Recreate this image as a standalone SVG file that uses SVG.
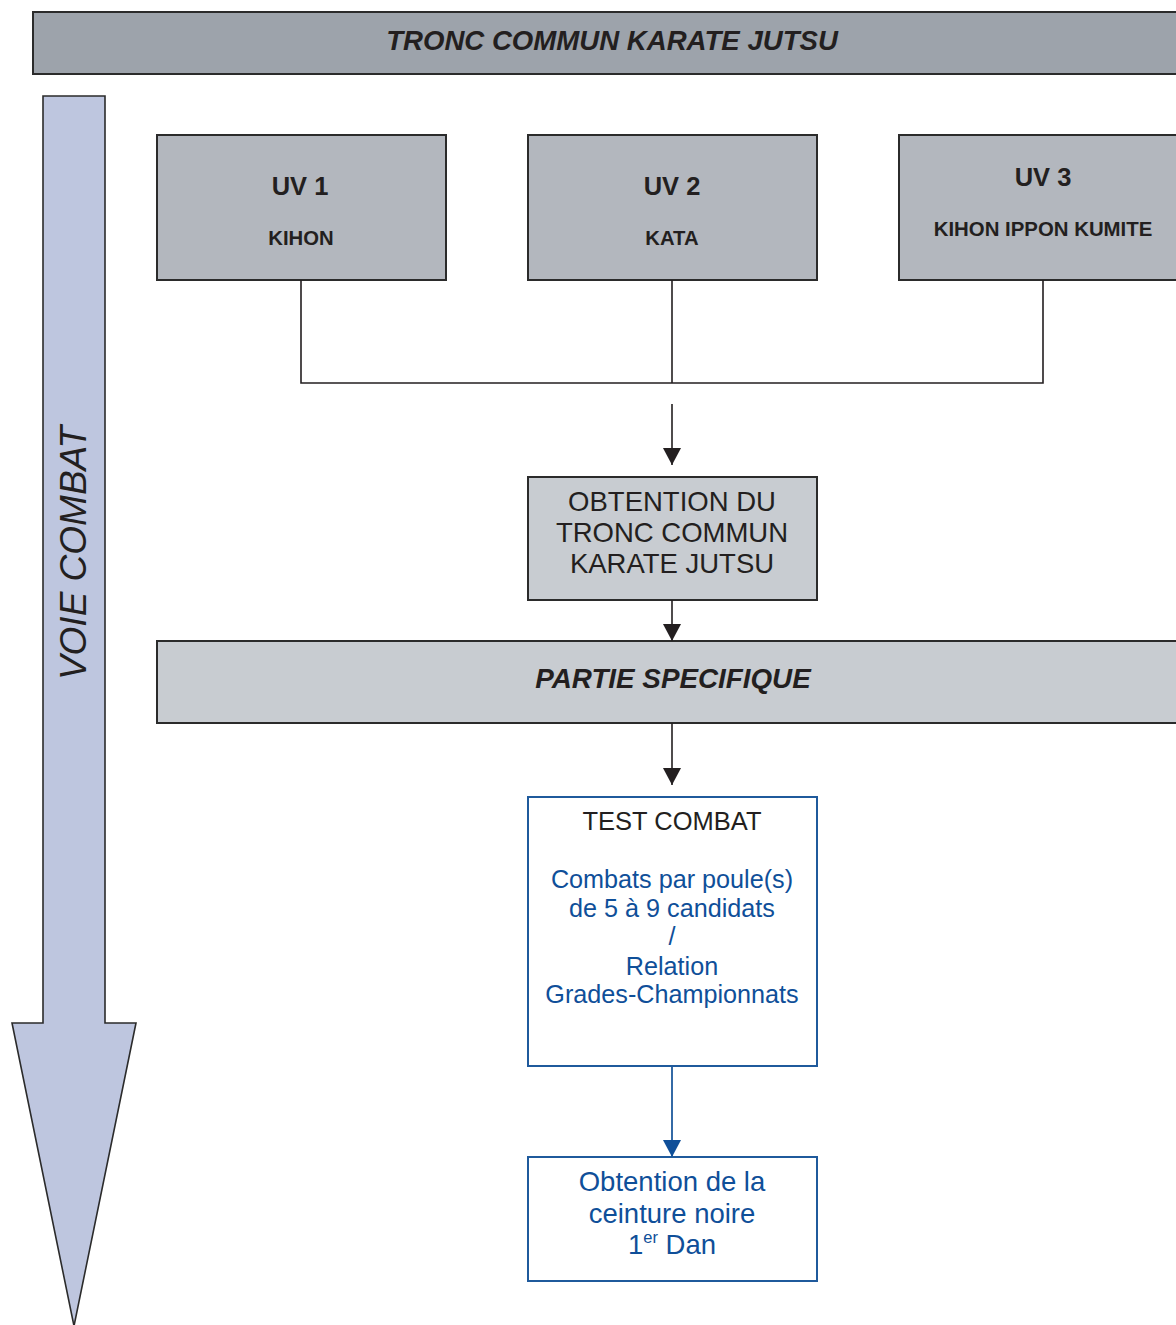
<svg xmlns="http://www.w3.org/2000/svg" width="1176" height="1325" viewBox="0 0 1176 1325">
<defs>
<style>
text{font-family:"Liberation Sans",Arial,sans-serif;text-anchor:middle;fill:#231f20}
.box{stroke:#2b2b2b;stroke-width:2}
.dark{fill:#9da3ab}
.mid{fill:#b3b7be}
.light{fill:#c8ccd1}
.bluebox{fill:#fff;stroke:#1f5a9c;stroke-width:2}
.conn{stroke:#231f20;stroke-width:1.6;fill:none}
.connb{stroke:#1f5a9c;stroke-width:1.8;fill:none}
.b{font-weight:bold}
.bi{font-weight:bold;font-style:italic}
.blue{fill:#0f4f99}
</style>
<marker id="ah" markerUnits="userSpaceOnUse" markerWidth="17" markerHeight="18" refX="17" refY="9" orient="auto">
<path d="M0,0 L17,9 L0,18 z" fill="#231f20"/>
</marker>
<marker id="ahb" markerUnits="userSpaceOnUse" markerWidth="17" markerHeight="18" refX="17" refY="9" orient="auto">
<path d="M0,0 L17,9 L0,18 z" fill="#0f4f99"/>
</marker>
</defs>
<rect width="1176" height="1325" fill="#fff"/>

<g id="titre">
<rect class="box dark" x="33" y="12" width="1150" height="62"/>
<text class="bi" x="612" y="50" font-size="27.6">TRONC COMMUN KARATE JUTSU</text>
</g>

<g id="voie-combat">
<path d="M43,96 L105,96 L105,1023 L136,1023 L74,1326 L12,1023 L43,1023 Z" fill="#bec6df" stroke="#2b2b2b" stroke-width="1.6"/>
<text x="0" y="0" font-size="37" font-style="italic" transform="translate(86,553) rotate(-90)">VOIE COMBAT</text>
</g>

<g id="uv1">
<rect class="box mid" x="157" y="135" width="289" height="145"/>
<text class="b" x="300" y="195" font-size="25.5">UV 1</text>
<text class="b" x="301" y="245" font-size="20.3">KIHON</text>
</g>

<g id="uv2">
<rect class="box mid" x="528" y="135" width="289" height="145"/>
<text class="b" x="672" y="195" font-size="25.5">UV 2</text>
<text class="b" x="672" y="245" font-size="20.3">KATA</text>
</g>

<g id="uv3">
<rect class="box mid" x="899" y="135" width="290" height="145"/>
<text class="b" x="1043" y="186" font-size="25.5">UV 3</text>
<text class="b" x="1043" y="236" font-size="20.4">KIHON IPPON KUMITE</text>
</g>

<g id="obtention-tronc">
<rect class="box light" x="528" y="477" width="289" height="123"/>
<text x="672" y="511" font-size="27.5">OBTENTION DU</text>
<text x="672" y="542" font-size="27.5">TRONC COMMUN</text>
<text x="672" y="573" font-size="27.5">KARATE JUTSU</text>
</g>

<g id="partie-specifique">
<rect class="box light" x="157" y="641" width="1030" height="82"/>
<text class="bi" x="673" y="688" font-size="27.8">PARTIE SPECIFIQUE</text>
</g>

<g id="test-combat">
<rect class="bluebox" x="528" y="797" width="289" height="269"/>
<text x="672" y="830" font-size="25.5">TEST COMBAT</text>
<text class="blue" x="672" y="888" font-size="25.2">Combats par poule(s)</text>
<text class="blue" x="672" y="917" font-size="25.2">de 5 à 9 candidats</text>
<text class="blue" x="672" y="945" font-size="25.2">/</text>
<text class="blue" x="672" y="975" font-size="25.2">Relation</text>
<text class="blue" x="672" y="1003" font-size="25.2">Grades-Championnats</text>
</g>

<g id="ceinture-noire">
<rect class="bluebox" x="528" y="1157" width="289" height="124"/>
<text class="blue" x="672" y="1191" font-size="27.5">Obtention de la</text>
<text class="blue" x="672" y="1223" font-size="27.5">ceinture noire</text>
<text class="blue" x="672" y="1254" font-size="27.5">1<tspan font-size="16.5" dy="-11">er</tspan><tspan dy="11"> Dan</tspan></text>
</g>

<g id="connecteurs">
<polyline class="conn" points="301,280 301,383 1043,383 1043,280"/>
<line class="conn" x1="672" y1="280" x2="672" y2="383"/>
<line class="conn" x1="672" y1="404" x2="672" y2="465" marker-end="url(#ah)"/>
<line class="conn" x1="672" y1="600" x2="672" y2="641" marker-end="url(#ah)"/>
<line class="conn" x1="672" y1="723" x2="672" y2="785" marker-end="url(#ah)"/>
<line class="connb" x1="672" y1="1066" x2="672" y2="1157" marker-end="url(#ahb)"/>
</g>
</svg>
